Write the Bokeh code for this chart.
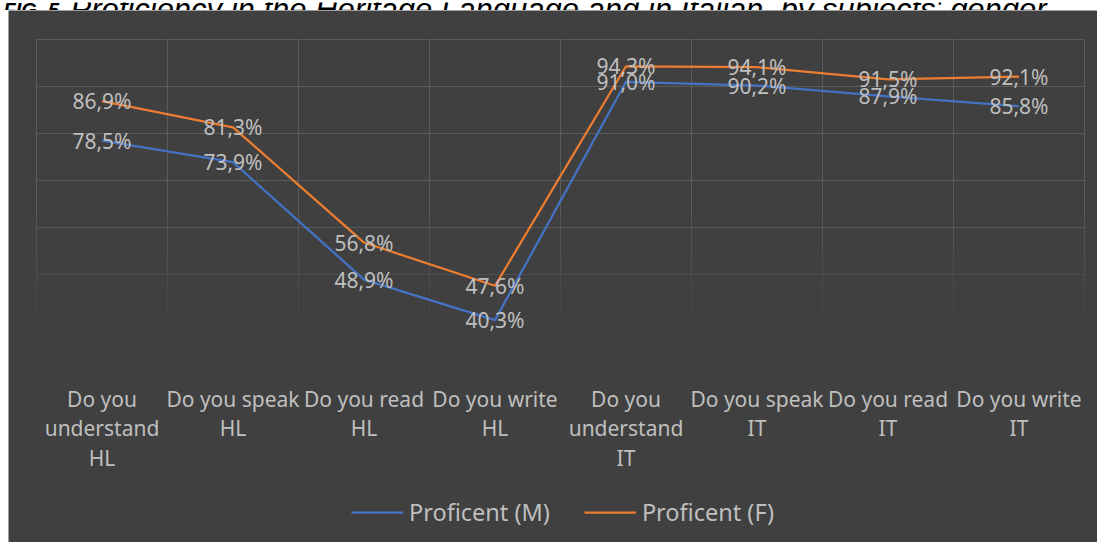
from bokeh.plotting import figure
from bokeh.layouts import column
from bokeh.models import Range1d, Legend, LegendItem, ColumnDataSource
from bokeh.core.properties import value
from bokeh.embed import file_html
from bokeh.resources import INLINE

# ---- data ----
caption_bold = "FIG. 5."
caption_rest = "Proficiency in the Heritage Language and in Italian, by subjects' gender"
categories = ["Do you\nunderstand\nHL", "Do you speak\nHL", "Do you read\nHL", "Do you write\nHL",
              "Do you\nunderstand\nIT", "Do you speak\nIT", "Do you read\nIT", "Do you write\nIT"]
male = [78.5, 73.9, 48.9, 40.3, 91.0, 90.2, 87.9, 85.8]
female = [86.9, 81.3, 56.8, 47.6, 94.3, 94.1, 91.5, 92.1]
series_names = ["Proficent (M)", "Proficent (F)"]
colors = ["#4472C4", "#ED7D31"]
y_grid_levels = [100, 90, 80, 70, 60, 50, 40]

BG = "#404040"
GRID = "#5b5b5b"
TXT = "#bfbfbf"
FONT = "Noto Sans"

n = len(categories)
xs = [i + 0.5 for i in range(n)]

# ---- caption strip (only its lower part is visible, as in the reference) ----
head = figure(width=1097, height=10, output_backend="svg", toolbar_location=None,
              x_range=Range1d(0, 1097), y_range=Range1d(0, 10),
              x_axis_location=None, y_axis_location=None,
              background_fill_color="white", border_fill_color="white",
              min_border=0, min_border_left=0, min_border_right=0, min_border_top=0, min_border_bottom=0)
head.outline_line_color = None
head.grid.visible = False
head.text(x=[3], y=[3], text=[caption_bold], text_font=value("Liberation Sans"),
          text_font_style="bold italic", text_font_size="20px", text_color="black",
          text_baseline="alphabetic")
head.text(x=[70], y=[3], text=[caption_rest], text_font=value("Liberation Sans"),
          text_font_style="italic", text_font_size="31px", text_color="black",
          text_baseline="alphabetic")

# ---- main chart: the frame fills the whole dark panel (no seams) ----
PX_X = 131.0   # px per category
PX_Y = 4.7     # px per percentage point
p = figure(width=1089, height=532, output_backend="svg", toolbar_location=None,
           x_range=Range1d(-28 / PX_X, n + 13 / PX_X),
           y_range=Range1d(100 - 503 / PX_Y, 100 + 29 / PX_Y),
           x_axis_location=None, y_axis_location=None,
           background_fill_color=BG, border_fill_color=BG,
           min_border=0, min_border_left=0, min_border_right=0, min_border_top=0, min_border_bottom=0)
p.margin = (0, 0, 0, 8)
p.outline_line_color = None
p.grid.visible = False

# fading horizontal grid lines (Excel gradient look)
h_alpha = [1.0, 1.0, 1.0, 1.0, 0.8, 0.5, 0.22]
p.segment(x0="x0", y0="y", x1="x1", y1="y", line_alpha="a", line_color=GRID, line_width=1,
          source=ColumnDataSource(dict(x0=[0] * len(y_grid_levels), x1=[n] * len(y_grid_levels),
                                       y=y_grid_levels, a=h_alpha)))

# fading vertical grid lines at category boundaries
v_bands = [((62, 100), 1.0), ((55, 62), 0.75), ((48, 55), 0.5), ((42, 48), 0.3), ((36, 42), 0.12)]
gx, gy0, gy1, ga = [], [], [], []
for (b0, b1), a in v_bands:
    for k in range(n + 1):
        gx.append(k); gy0.append(b0); gy1.append(b1); ga.append(a)
p.segment(x0="x", y0="y0", x1="x", y1="y1", line_alpha="a", line_color=GRID, line_width=1,
          source=ColumnDataSource(dict(x=gx, y0=gy0, y1=gy1, a=ga)))

# category labels under the plot area
cat_src = ColumnDataSource(dict(x=xs, y=[26.5] * n, t=categories))
p.text("x", "y", text="t", source=cat_src, text_align="center", text_baseline="top",
       text_color=TXT, text_font=value(FONT), text_font_size="21px", text_line_height=1.05)

items = []
for vals, name, col in zip([male, female], series_names, colors):
    src = ColumnDataSource(dict(x=xs, y=vals))
    r = p.line("x", "y", source=src, line_color=col, line_width=2.25)
    items.append(LegendItem(label=name, renderers=[r]))
for vals in [male, female]:
    src = ColumnDataSource(dict(x=xs, y=vals, t=[f"{v:.1f}%".replace(".", ",") for v in vals]))
    p.text("x", "y", text="t", source=src, text_align="center", text_baseline="middle",
           text_color=TXT, text_font=value(FONT), text_font_size="21px")

legend = Legend(items=items, orientation="horizontal", location=(343, 14),
                label_text_color=TXT, label_text_font=FONT, label_text_font_size="23.5px",
                glyph_width=52, glyph_height=20, label_standoff=6, spacing=34,
                background_fill_alpha=0, border_line_alpha=0, padding=0, margin=0)
p.add_layout(legend, "center")

page = column(head, p)
open("out.html", "w").write(file_html(page, INLINE))
